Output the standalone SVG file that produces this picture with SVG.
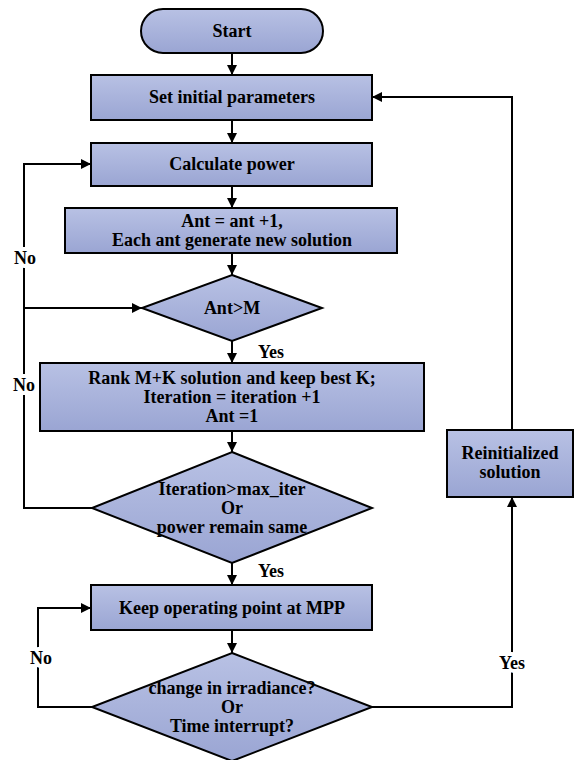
<svg xmlns="http://www.w3.org/2000/svg" width="574" height="760" viewBox="0 0 574 760">
<style>
.shape{fill:url(#g);stroke:#000;stroke-width:2}
.t{font-family:"Liberation Serif","Times New Roman",serif;font-weight:bold;font-size:18px;fill:#000;text-anchor:middle}
.lbl{font-family:"Liberation Serif","Times New Roman",serif;font-weight:bold;font-size:18px;fill:#000;text-anchor:middle;stroke:#fff;stroke-width:8;paint-order:stroke;stroke-linejoin:round}
.c{fill:none;stroke:#000;stroke-width:2}
</style>
<defs>
<linearGradient id="g" x1="0" y1="0" x2="0" y2="1">
<stop offset="0" stop-color="#b8c1e4"/>
<stop offset="1" stop-color="#9aa5d3"/>
</linearGradient>
<marker id="a" viewBox="0 0 10 10" refX="10" refY="5" markerWidth="10" markerHeight="10" markerUnits="userSpaceOnUse" orient="auto">
<path d="M0,0 L10,5 L0,10 z" fill="#000"/>
</marker>
</defs>
<rect width="574" height="760" fill="#fff"/>
<g id="connectors">
<path class="c" d="M232,53 V75" marker-end="url(#a)"/>
<path class="c" d="M232,120 V143" marker-end="url(#a)"/>
<path class="c" d="M232,186 V208" marker-end="url(#a)"/>
<path class="c" d="M232,253 V275" marker-end="url(#a)"/>
<path class="c" d="M232,341 V363" marker-end="url(#a)"/>
<path class="c" d="M232,431 V452" marker-end="url(#a)"/>
<path class="c" d="M232,563 V585" marker-end="url(#a)"/>
<path class="c" d="M232,630 V653" marker-end="url(#a)"/>
<path class="c" d="M92,508 H24 V164 H91" marker-end="url(#a)"/>
<path class="c" d="M24,308 H142" marker-end="url(#a)"/>
<path class="c" d="M92,707 H38 V608 H91" marker-end="url(#a)"/>
<path class="c" d="M372,707 H512 V497" marker-end="url(#a)"/>
<path class="c" d="M512,430 V97 H372" marker-end="url(#a)"/>
<text class="lbl" x="25" y="264">No</text>
<text class="lbl" x="24" y="391">No</text>
<text class="lbl" x="41" y="664">No</text>
<text class="lbl" x="512" y="669">Yes</text>
<text class="t" x="271" y="358">Yes</text>
<text class="t" x="271" y="577">Yes</text>
</g>
<g id="start">
<rect class="shape" x="141" y="9" width="182" height="44" rx="22" ry="22"/>
<text class="t" x="232" y="37">Start</text>
</g>
<g id="set-initial">
<rect class="shape" x="91" y="75" width="281" height="45"/>
<text class="t" x="232" y="103">Set initial parameters</text>
</g>
<g id="calc-power">
<rect class="shape" x="91" y="143" width="281" height="43"/>
<text class="t" x="232" y="170">Calculate power</text>
</g>
<g id="ant-update">
<rect class="shape" x="65" y="208" width="332" height="45"/>
<text class="t" x="232" y="227">Ant = ant +1,</text>
<text class="t" x="232" y="246">Each ant generate new solution</text>
</g>
<g id="ant-check">
<polygon class="shape" points="232,275 322,308 232,341 142,308"/>
<text class="t" x="232" y="314">Ant&gt;M</text>
</g>
<g id="rank">
<rect class="shape" x="40" y="363" width="384" height="68"/>
<text class="t" x="232" y="384">Rank M+K solution and keep best K;</text>
<text class="t" x="232" y="403">Iteration = iteration +1</text>
<text class="t" x="232" y="422">Ant =1</text>
</g>
<g id="iter-check">
<polygon class="shape" points="232,452 372,508 232,563 92,508"/>
<text class="t" x="232" y="495">Iteration&gt;max_iter</text>
<text class="t" x="232" y="514">Or</text>
<text class="t" x="232" y="533">power remain same</text>
</g>
<g id="keep-mpp">
<rect class="shape" x="91" y="585" width="281" height="45"/>
<text class="t" x="232" y="614">Keep operating point at MPP</text>
</g>
<g id="change-check">
<polygon class="shape" points="232,653 372,707 232,761 92,707"/>
<text class="t" x="232" y="694">change in irradiance?</text>
<text class="t" x="232" y="713">Or</text>
<text class="t" x="232" y="732">Time interrupt?</text>
</g>
<g id="reinit">
<rect class="shape" x="447" y="430" width="126" height="67"/>
<text class="t" x="510" y="459">Reinitialized</text>
<text class="t" x="510" y="478">solution</text>
</g>
</svg>
